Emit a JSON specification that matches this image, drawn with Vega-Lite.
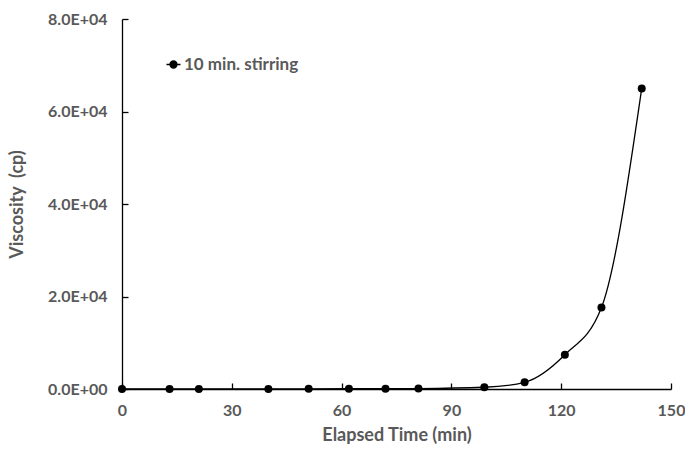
{
  "$schema": "https://vega.github.io/schema/vega-lite/v6.json",
  "autosize": "none",
  "width": 549,
  "height": 370,
  "padding": {"left": 122, "top": 19, "right": 14, "bottom": 64},
  "background": "white",
  "config": {
    "view": {"stroke": null},
    "font": "Lato",
    "axis": {
      "grid": false,
      "domainColor": "black",
      "domainWidth": 1.3,
      "tickColor": "black",
      "tickWidth": 1.3,
      "tickSize": -6,
      "labelFlush": false,
      "labelOverlap": false,
      "labelColor": "#595959",
      "labelFont": "Lato",
      "labelFontWeight": "bold",
      "labelFontSize": 16,
      "titleColor": "#595959",
      "titleFont": "Lato",
      "titleFontWeight": "bold",
      "titleFontSize": 18
    }
  },
  "data": {
    "values": [
      {"t": 0, "v": 0, "s": "10 min. stirring"},
      {"t": 13, "v": 0, "s": "10 min. stirring"},
      {"t": 21, "v": 0, "s": "10 min. stirring"},
      {"t": 40, "v": 20, "s": "10 min. stirring"},
      {"t": 51, "v": 30, "s": "10 min. stirring"},
      {"t": 62, "v": 50, "s": "10 min. stirring"},
      {"t": 72, "v": 80, "s": "10 min. stirring"},
      {"t": 81, "v": 100, "s": "10 min. stirring"},
      {"t": 99, "v": 380, "s": "10 min. stirring"},
      {"t": 110, "v": 1450, "s": "10 min. stirring"},
      {"t": 121, "v": 7400, "s": "10 min. stirring"},
      {"t": 131, "v": 17600, "s": "10 min. stirring"},
      {"t": 142, "v": 65000, "s": "10 min. stirring"}
    ]
  },
  "encoding": {
    "x": {
      "field": "t", "type": "quantitative",
      "scale": {"domain": [0, 150], "nice": false},
      "axis": {"values": [0, 30, 60, 90, 120, 150], "title": "Elapsed Time (min)", "labelPadding": 19, "titlePadding": 8}
    },
    "y": {
      "field": "v", "type": "quantitative",
      "scale": {"domain": [0, 80000], "nice": false},
      "axis": {
        "values": [0, 20000, 40000, 60000, 80000],
        "labelExpr": "datum.value == 0 ? '0.0E+00' : format(datum.value / 10000, '.1f') + 'E+04'",
        "title": "Viscosity\u00a0 (cp)",
        "labelPadding": 21,
        "titlePadding": 21
      }
    },
    "color": {
      "field": "s", "type": "nominal",
      "scale": {"range": ["black"]},
      "legend": {
        "title": null,
        "orient": "none",
        "legendX": 43,
        "legendY": 37,
        "padding": 0,
        "symbolType": "M-1,0L1,0M-0.5,0A0.5,0.5,0,1,1,0.5,0A0.5,0.5,0,1,1,-0.5,0",
        "symbolSize": 196,
        "symbolFillColor": "black",
        "symbolStrokeColor": "black",
        "symbolStrokeWidth": 1.3,
        "labelColor": "#595959",
        "labelFont": "Lato",
        "labelFontWeight": "bold",
        "labelFontSize": 17,
        "labelOffset": 2
      }
    }
  },
  "layer": [
    {"mark": {"type": "line", "interpolate": "monotone", "strokeWidth": 1.3}},
    {"mark": {"type": "point", "filled": true, "size": 64, "opacity": 1}}
  ]
}
